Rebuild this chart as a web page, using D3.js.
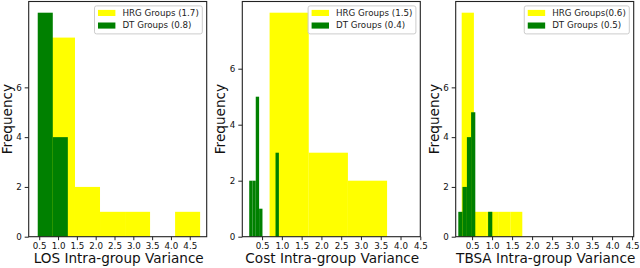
<!DOCTYPE html>
<html>
<head>
<meta charset="utf-8">
<script src="https://cdn.jsdelivr.net/npm/d3@7"></script>
<style>
  body { margin: 0; background: #fff; }
  svg { display: block; font-family: "DejaVu Sans", sans-serif; }
</style>
</head>
<body>
<div id="chart"></div>
<script>
// histogram data
const xLabels = ['LOS Intra-group Variance', 'Cost Intra-group Variance', 'TBSA Intra-group Variance'];
const hrgNames = ['HRG Groups (1.7)', 'HRG Groups (1.5)', 'HRG Groups(0.6)'];
const dtNames = ['DT Groups (0.8)', 'DT Groups (0.4)', 'DT Groups (0.5)'];

const hrgEdges = [
  [0.785, 1.45, 2.115, 2.78, 3.445, 4.11, 4.775],
  [0.69, 1.68, 2.67, 3.66],
  [0.24, 0.545, 0.85, 1.15, 1.455, 1.755]
];
const hrgCounts = [
  [8, 2, 1, 1, 0, 1],
  [8, 3, 2],
  [9, 1, 1, 1, 1]
];
const dtEdges = [
  [0.46, 0.86, 1.26],
  [0.175, 0.26, 0.34, 0.425, 0.51, 0.59, 0.675, 0.76, 0.84, 0.925],
  [0.155, 0.26, 0.37, 0.475, 0.58, 0.69, 0.795, 0.9, 1.005]
];
const dtCounts = [
  [9, 4],
  [2, 2, 5, 1, 0, 0, 0, 0, 3],
  [1, 2, 4, 5, 0, 0, 0, 1]
];
const xLimits = [[0.22, 4.95], [0, 4.5], [0.09, 4.54]];
const xTicks = [0.5, 1.0, 1.5, 2.0, 2.5, 3.0, 3.5, 4.0, 4.5];
const yTicks = [0, 2, 4, 6];

const W = 640, H = 268;
const axTop = 1.5, axBottom = 236.7, pw = 178;
const lefts = [28.7, 242.3, 455.7];
const HRG = '#ffff00', DT = '#008000';
const tickFont = 8.7;
const labelFont = 13.6;

const svg = d3.select('#chart').append('svg')
  .attr('width', W).attr('height', H);

const toBins = (edges, counts) => counts.map((c, i) => ({ x0: edges[i], x1: edges[i + 1], c }));

lefts.forEach((left, p) => {
  const x = d3.scaleLinear().domain(xLimits[p]).range([left, left + pw]);
  const ymax = d3.max(hrgCounts[p].concat(dtCounts[p])) * 1.05;
  const y = d3.scaleLinear().domain([0, ymax]).range([axBottom, axTop]);
  const g = svg.append('g');

  const drawBars = (edges, counts, color) => {
    g.append('g').selectAll('rect')
      .data(toBins(edges, counts).filter(d => d.c > 0))
      .enter().append('rect')
        .attr('x', d => x(d.x0))
        .attr('width', d => x(d.x1) - x(d.x0))
        .attr('y', d => y(d.c))
        .attr('height', d => y(0) - y(d.c))
        .attr('fill', color);
  };
  drawBars(hrgEdges[p], hrgCounts[p], HRG);
  drawBars(dtEdges[p], dtCounts[p], DT);

  // axes
  const xAxis = d3.axisBottom(x).tickValues(xTicks).tickFormat(d3.format('.1f'))
    .tickSize(3.5).tickPadding(3);
  const yAxis = d3.axisLeft(y).tickValues(yTicks).tickFormat(d3.format('d'))
    .tickSize(4).tickPadding(3);

  const gx = g.append('g').attr('transform', `translate(0,${axBottom})`).call(xAxis);
  const gy = g.append('g').attr('transform', `translate(${left},0)`).call(yAxis);
  [gx, gy].forEach(a => {
    a.select('.domain').remove();
    a.selectAll('line').attr('stroke', '#222').attr('stroke-width', 1);
    a.selectAll('text').attr('font-family', 'DejaVu Sans').attr('font-size', tickFont).attr('fill', '#111');
  });

  g.append('rect')
    .attr('x', left).attr('y', axTop)
    .attr('width', pw).attr('height', axBottom - axTop)
    .attr('fill', 'none').attr('stroke', '#222').attr('stroke-width', 1.1);

  g.append('text')
    .attr('x', left + pw / 2 + 1).attr('y', 263.3)
    .attr('text-anchor', 'middle')
    .attr('font-size', labelFont).attr('fill', '#111')
    .text(xLabels[p]);

  {
    let tx = left - 17, ty = (axTop + axBottom) / 2;
    g.append('text')
      .attr('transform', `translate(${tx},${ty}) rotate(-90)`)
      .attr('text-anchor', 'middle')
      .attr('font-size', labelFont).attr('fill', '#111')
      .text('Frequency');
  }

  // legend
  const lg = g.append('g');
  const box = lg.append('rect');
  const names = [hrgNames[p], dtNames[p]];
  const colors = [HRG, DT];
  const pad = 3.5, hl = 17.4, htp = 7, rowH = 12.6;
  const texts = names.map((n, i) => lg.append('text')
    .attr('y', 15.6 + i * rowH)
    .attr('font-size', tickFont).attr('fill', '#222')
    .text(n));
  const tw = d3.max(texts, t => t.node().getComputedTextLength());
  const bw = pad + hl + htp + tw + pad;
  const bx = left + pw - 4.4 - bw, by = axTop + 4.4;
  box.attr('x', bx).attr('y', by).attr('width', bw).attr('height', 28)
    .attr('rx', 2).attr('fill', '#fff').attr('fill-opacity', 0.85)
    .attr('stroke', '#ccc').attr('stroke-width', 1);
  texts.forEach(t => t.attr('x', bx + pad + hl + htp));
  colors.forEach((c, i) => lg.append('rect')
    .attr('x', bx + pad).attr('y', 9.9 + i * rowH)
    .attr('width', hl).attr('height', 6.1)
    .attr('fill', c));
});
</script>
</body>
</html>
